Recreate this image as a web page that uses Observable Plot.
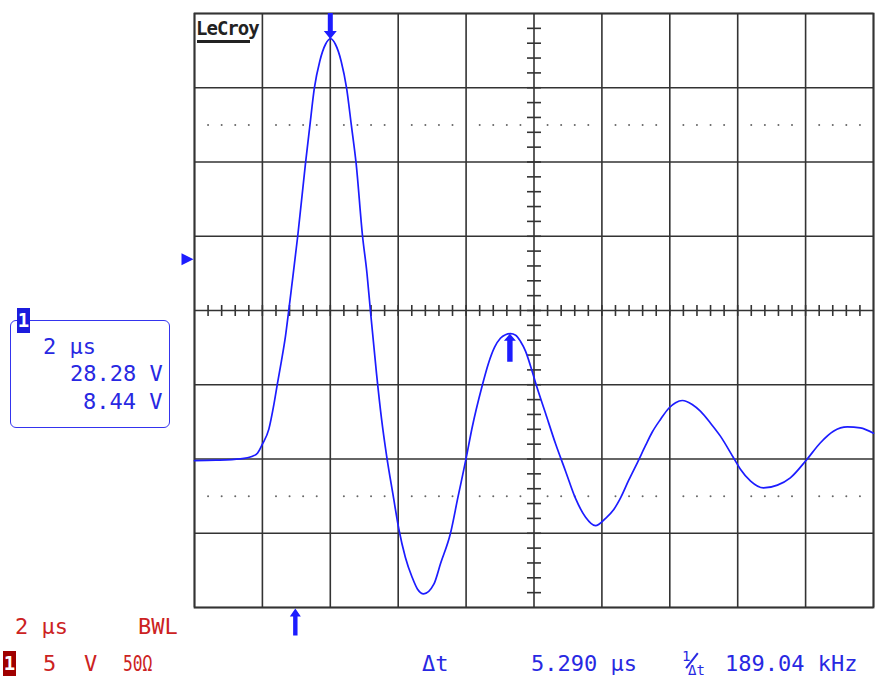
<!DOCTYPE html>
<html><head><meta charset="utf-8">
<script src="https://cdn.jsdelivr.net/npm/d3@7"></script>
<script src="https://cdn.jsdelivr.net/npm/@observablehq/plot@0.6"></script>
<style>
body{margin:0;background:#fff;}
#wrap{position:relative;width:877px;height:677px;overflow:hidden;font-family:"DejaVu Sans Mono",monospace;}
#wrap svg{position:absolute;left:0;top:0;}
.t{position:absolute;font-size:22px;line-height:22px;white-space:pre;}
.b{color:#2828e2;}
.r{color:#cc2222;}
.badge{position:absolute;width:13px;height:25px;color:#fff;font-weight:bold;font-size:19px;line-height:25px;text-align:center;}
.s{position:absolute;font-size:14px;line-height:13px;height:13px;overflow:visible;white-space:pre;}
</style></head><body><div id="wrap"></div>
<script>
// Waveform (time in µs, voltage in V)
const times = [0.00,0.62,1.35,1.71,1.86,2.00,2.19,2.34,2.44,2.56,2.68,2.77,2.86,3.04,3.27,3.40,3.53,3.69,3.86,4.01,4.15,4.32,4.48,4.62,4.76,4.95,5.08,5.18,5.36,5.51,5.66,5.85,6.02,6.21,6.41,6.57,6.75,7.05,7.25,7.54,7.76,7.99,8.18,8.47,8.66,8.84,9.01,9.16,9.31,9.46,9.60,9.75,9.90,10.05,10.34,10.63,10.93,11.22,11.52,11.81,12.11,12.35,12.55,12.79,13.05,13.29,13.48,13.73,13.97,14.17,14.37,14.66,14.90,15.20,15.49,15.88,16.08,16.38,16.76,17.17,17.55,18.02,18.43,18.82,19.23,19.61,20.00];
const volts = [-0.11,-0.08,0.01,0.19,0.41,1.00,2.01,3.69,5.04,6.59,8.27,9.89,11.57,15.00,19.92,22.48,24.97,26.79,27.93,28.30,27.93,26.79,24.97,22.48,19.92,15.00,12.51,10.02,5.78,2.68,0.19,-2.44,-4.73,-6.61,-7.96,-8.77,-9.08,-8.43,-7.02,-5.00,-2.57,-0.08,2.14,4.90,6.45,7.53,8.13,8.37,8.44,8.34,7.93,7.26,6.25,5.10,3.08,1.06,-0.82,-2.64,-3.92,-4.49,-3.99,-3.40,-2.62,-1.43,-0.22,0.93,1.80,2.68,3.42,3.79,3.94,3.67,3.22,2.41,1.54,0.07,-0.69,-1.49,-1.95,-1.76,-1.27,-0.08,1.08,1.87,2.16,2.09,1.74];

// Cursors and trigger
const cursorTimes = [4.00, 9.29];
const cursorLevels = [28.28, 8.44];
const triggerTime = 2.97;
const triggerLevel = 13.45;

// Graticule (2 µs/div, 5 V/div)
const xMajor = [0,2,4,6,8,10,12,14,16,18,20];
const yMajor = [-10,-5,0,5,10,15,20,25,30];
const xCenter = 10, yCenter = 10;
const dottedLevels = [22.5, -2.5];

const xMinor = d3.range(1, 50).map(i => i * 0.4);
const yMinor = d3.range(-9, 30);
const dotRows = dottedLevels.flatMap(v => d3.range(1, 50).filter(i => i % 5 !== 0).map(i => ({t: i * 0.4, v})));
const wave = times.map((t, i) => ({t, v: volts[i]}));
const cursors = cursorTimes.map((t, i) => ({t, v: cursorLevels[i]}));

const BLUE = "#1c1cff";
const GRID = "#333";

const vTick = {draw(c){ c.moveTo(0,-5.5); c.lineTo(0,5.5); }};
const hTick = {draw(c){ c.moveTo(-7,0); c.lineTo(7,0); }};
const arrowDown = {draw(c){ c.moveTo(0,0); c.lineTo(-6.5,-8); c.lineTo(-2.5,-8); c.lineTo(-2.5,-26); c.lineTo(2.5,-26); c.lineTo(2.5,-8); c.lineTo(6.5,-8); c.closePath(); }};
const arrowUp = {draw(c){ c.moveTo(0,0); c.lineTo(-6,7); c.lineTo(-2.7,7); c.lineTo(-2.7,28); c.lineTo(2.7,28); c.lineTo(2.7,7); c.lineTo(6,7); c.closePath(); }};
const arrowUpSmall = {draw(c){ c.moveTo(0,0); c.lineTo(-5.5,8); c.lineTo(-2.2,8); c.lineTo(-2.2,27); c.lineTo(2.2,27); c.lineTo(2.2,8); c.lineTo(5.5,8); c.closePath(); }};
const triRight = {draw(c){ c.moveTo(0,0); c.lineTo(-12,-6); c.lineTo(-12,6); c.closePath(); }};

const plot = Plot.plot({
  width: 877, height: 677,
  marginLeft: 194, marginRight: 4, marginTop: 13, marginBottom: 70,
  x: {domain: [0, 20], axis: null},
  y: {domain: [-10, 30], axis: null},
  style: {background: "transparent", overflow: "visible"},
  marks: [
    Plot.ruleX(xMajor, {stroke: GRID, strokeWidth: 1.6}),
    Plot.ruleY(yMajor, {stroke: GRID, strokeWidth: 1.6}),
    Plot.frame({stroke: GRID, strokeWidth: 1.8}),
    Plot.dot(dotRows, {x: "t", y: "v", r: 1, fill: "#666", stroke: "none"}),
    Plot.dot(xMinor, {x: d => d, y: () => yCenter, symbol: vTick, fill: "none", stroke: GRID, strokeWidth: 1.6}),
    Plot.dot(yMinor, {x: () => xCenter, y: d => d, symbol: hTick, fill: "none", stroke: GRID, strokeWidth: 1.6}),
    Plot.line(wave, {x: "t", y: "v", stroke: BLUE, strokeWidth: 1.7, curve: "monotone-x"}),
    Plot.dot(cursors.slice(0,1), {x: "t", y: "v", symbol: arrowDown, fill: BLUE, stroke: "none"}),
    Plot.dot(cursors.slice(1), {x: "t", y: "v", symbol: arrowUp, fill: BLUE, stroke: "none"}),
    Plot.dot([triggerTime], {x: d => d, frameAnchor: "bottom", dy: 1, symbol: arrowUpSmall, fill: BLUE, stroke: "none"}),
    Plot.dot([triggerLevel], {y: d => d, frameAnchor: "left", dx: -1, symbol: triRight, fill: BLUE, stroke: "none"})
  ]
});
const wrap = document.getElementById("wrap");
wrap.appendChild(plot);

function add(html){ wrap.insertAdjacentHTML("beforeend", html); }
// LeCroy logo
add('<div style="position:absolute;left:196px;top:19px;font:bold 19px/19px \'DejaVu Sans Mono\';letter-spacing:-1px;color:#222">LeCroy</div>');
add('<div style="position:absolute;left:197px;top:39.5px;width:53px;height:3px;background:#222"></div>');
// readout box
add('<div style="position:absolute;left:10px;top:320px;width:158px;height:106px;border:1.6px solid #3434ee;border-radius:6px"></div>');
add('<div class="badge" style="left:17px;top:308px;background:#1c1cdd">1</div>');
add('<div class="t b" style="left:43px;top:336.4px">2 µs</div>');
add('<div class="t b" style="left:70px;top:363.1px">28.28 V</div>');
add('<div class="t b" style="left:83px;top:390.7px">8.44 V</div>');
// status line
add('<div class="t r" style="left:15px;top:616.4px">2 µs</div>');
add('<div class="t r" style="left:138px;top:616.4px">BWL</div>');
add('<div class="badge" style="left:3px;top:651px;background:#a00000">1</div>');
add('<div class="t r" style="left:43px;top:653.1px">5</div>');
add('<div class="t r" style="left:84px;top:653.1px">V</div>');
add('<div class="t r" style="left:123px;top:653.1px;transform:scaleX(0.74);transform-origin:0 0">50Ω</div>');
add('<div class="t b" style="left:422px;top:653.1px">Δt</div>');
add('<div class="t b" style="left:531px;top:653.1px">5.290 µs</div>');
add('<div style="position:absolute;left:691px;top:651px;width:1.6px;height:19px;background:#2828e2;transform:rotate(38deg)"></div>');
add('<div class="s b" style="left:682px;top:650px">1</div>');
add('<div class="s b" style="left:688px;top:664px">Δt</div>');
add('<div class="t b" style="left:725px;top:653.1px">189.04 kHz</div>');
</script>
</body></html>
